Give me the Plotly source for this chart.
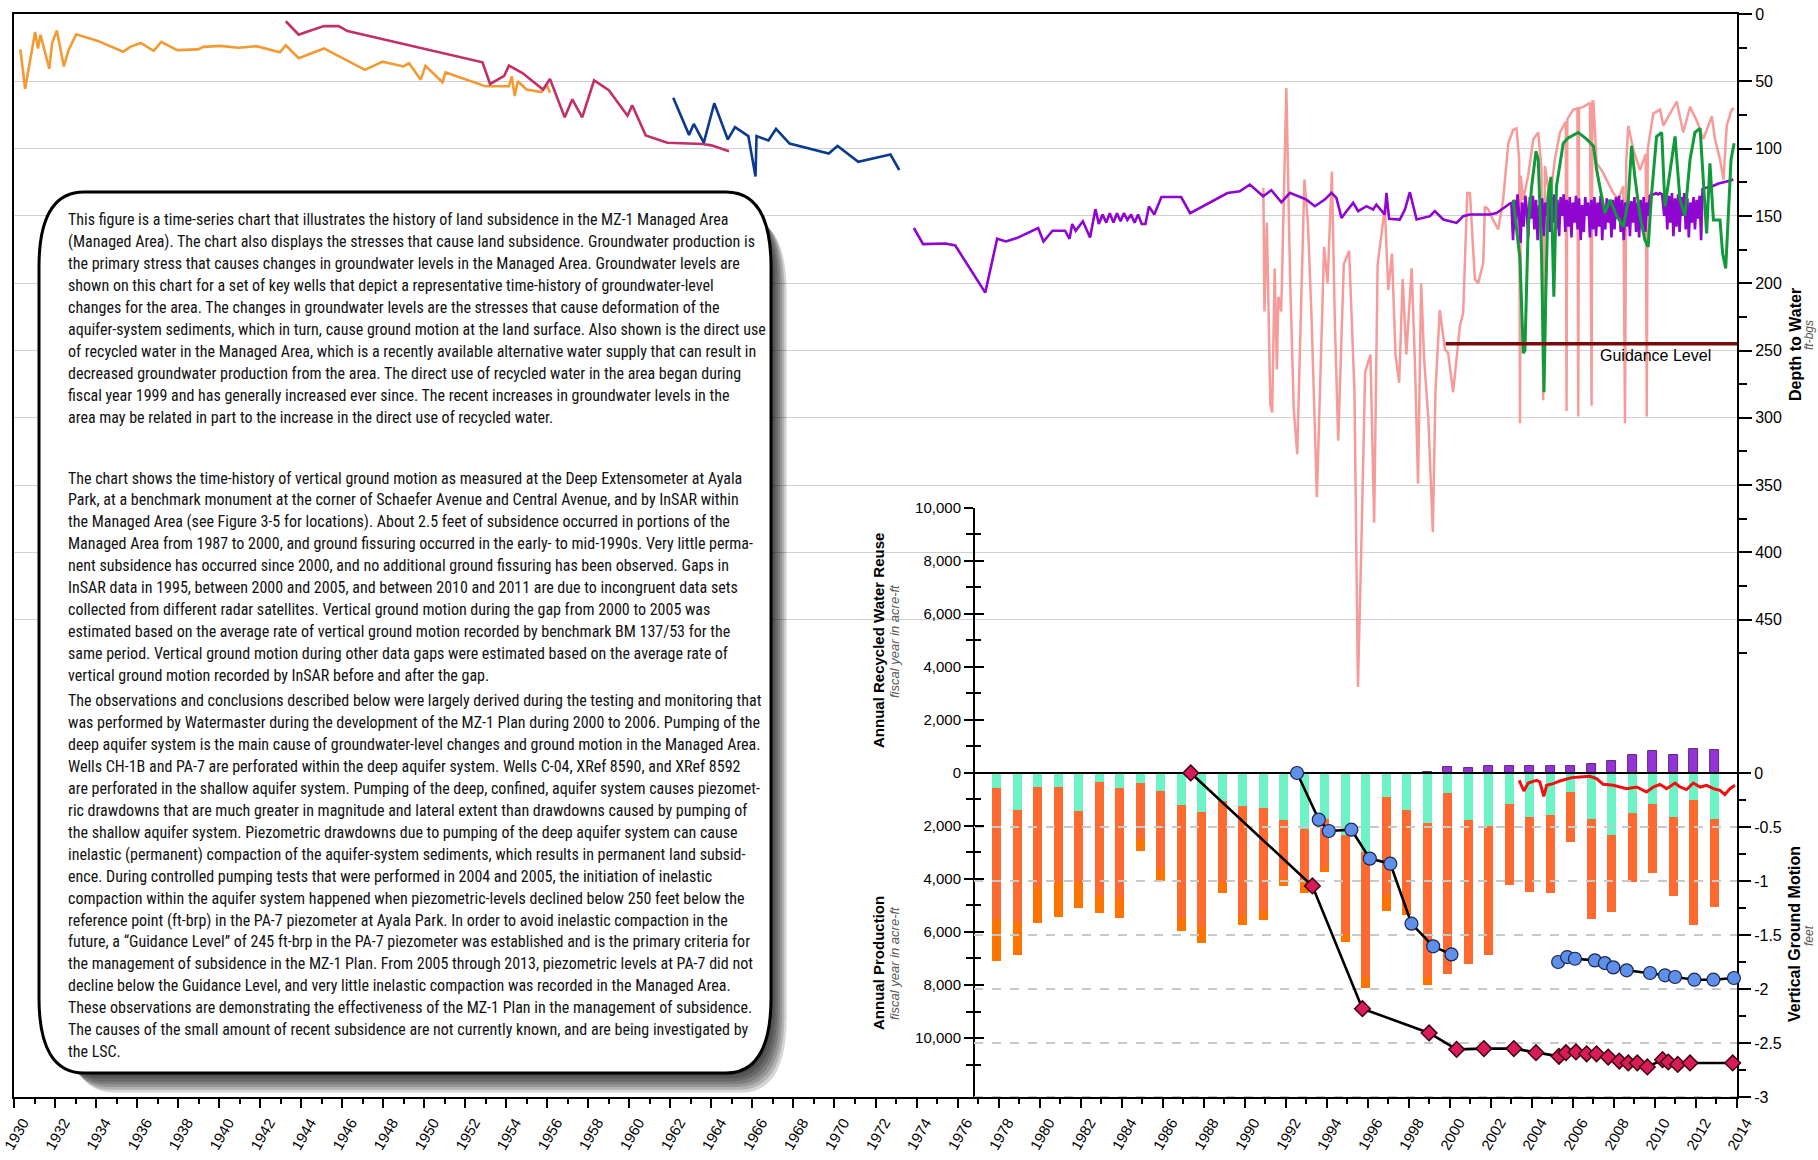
import plotly.graph_objects as go

# ---------------- data ----------------
orange_year = [1930.31, 1930.54, 1931.03, 1931.17, 1931.29, 1931.72, 1931.86, 1932.09, 1932.43, 1932.66,
               1933.03, 1934.09, 1935.32, 1935.67, 1936.18, 1936.81, 1937.18, 1937.96, 1938.96, 1939.24,
               1940.05, 1940.96, 1941.82, 1942.96, 1943.25, 1943.88, 1945.11, 1947.11, 1947.97, 1948.98,
               1949.26, 1949.83, 1950.06, 1950.89, 1951.04, 1952.98, 1954.13, 1954.27, 1954.41, 1954.56,
               1954.99, 1955.70, 1955.99, 1956.13]
orange_depth = [26.3, 55.6, 13.4, 25.6, 15.4, 40.7, 21.5, 12.2, 39.0, 26.8,
                15.1, 20.0, 28.0, 24.4, 21.5, 27.3, 20.7, 26.8, 26.3, 24.4,
                23.7, 25.1, 23.9, 28.5, 23.2, 32.9, 25.6, 41.5, 35.4, 39.0,
                36.6, 48.8, 38.5, 50.7, 43.4, 53.7, 53.7, 46.3, 61.0, 50.0,
                56.1, 58.0, 53.2, 58.5]

crimson_year = [1943.25, 1943.88, 1944.25, 1945.11, 1945.83, 1946.26, 1952.84, 1953.21, 1953.90, 1954.13,
                1954.79, 1955.79, 1956.13, 1956.85, 1957.22, 1957.70, 1958.28, 1959.00, 1959.91, 1960.14,
                1960.80, 1961.85, 1963.57, 1964.00, 1964.86]
crimson_depth = [5.4, 15.4, 13.4, 9.0, 9.0, 12.7, 35.9, 52.0, 45.9, 38.3,
                 43.9, 56.1, 48.3, 76.8, 63.4, 76.8, 49.3, 56.6, 75.6, 67.8,
                 90.2, 95.6, 96.6, 97.6, 102.0]

blue_year = [1962.14, 1962.91, 1963.14, 1963.63, 1964.14, 1964.80, 1965.15, 1965.80, 1966.15, 1966.20,
             1966.78, 1967.15, 1967.81, 1969.72, 1970.15, 1971.16, 1972.73, 1973.16]
blue_depth = [62.2, 89.8, 81.7, 95.6, 66.3, 93.2, 84.1, 90.7, 120.7, 90.7,
              93.9, 85.4, 96.3, 103.7, 98.0, 109.8, 104.4, 115.9]

purple_year = [1973.87, 1974.32, 1975.40, 1975.89, 1977.35, 1977.93, 1978.36, 1978.89, 1979.93, 1980.19,
               1980.63, 1981.24, 1981.46, 1981.59, 1981.76, 1982.11, 1982.46, 1982.72, 1982.89, 1983.07,
               1983.25, 1983.42, 1983.60, 1983.77, 1983.95, 1984.11, 1984.28, 1984.46, 1984.63, 1984.80,
               1984.98, 1985.16, 1985.33, 1985.59, 1985.94, 1986.90, 1987.34, 1989.16, 1989.76, 1990.25,
               1990.90, 1991.30, 1991.79, 1992.20, 1993.01, 1993.42, 1993.90, 1994.23, 1994.47, 1994.72,
               1994.96, 1995.29, 1995.53, 1995.94, 1996.26, 1996.42, 1996.83, 1996.91, 1997.04, 1997.56,
               1997.81, 1998.05, 1998.38, 1999.03, 1999.27, 1999.68, 2000.33, 2000.65, 2000.98, 2001.95,
               2002.28, 2002.93,
               2003.00, 2003.08, 2003.15, 2003.22, 2003.30, 2003.38, 2003.45, 2003.52, 2003.60, 2003.68,
               2003.75, 2003.82, 2003.90, 2003.97, 2004.05, 2004.12, 2004.20, 2004.28, 2004.35, 2004.42,
               2004.50, 2004.58, 2004.65, 2004.72, 2004.80, 2004.88, 2004.95, 2005.03, 2005.10, 2005.18,
               2005.25, 2005.33, 2005.40, 2005.48, 2005.55, 2005.63, 2005.70, 2005.78, 2005.85, 2005.93,
               2006.00, 2006.08, 2006.15, 2006.23, 2006.30, 2006.38, 2006.45, 2006.53, 2006.60, 2006.68,
               2006.75, 2006.83, 2006.90, 2006.98, 2007.05, 2007.13, 2007.20, 2007.28, 2007.35, 2007.43,
               2007.50, 2007.58, 2007.65, 2007.73, 2007.80, 2007.88, 2007.95, 2008.03, 2008.10, 2008.18,
               2008.25, 2008.33, 2008.40, 2008.48, 2008.55, 2008.63, 2008.70, 2008.78, 2008.85, 2008.93,
               2009.00, 2009.08, 2009.15, 2009.23, 2009.30, 2009.38, 2009.45, 2009.53, 2009.60, 2009.68,
               2009.75, 2009.85, 2009.95, 2010.05, 2010.15, 2010.25, 2010.35, 2010.45, 2010.52, 2010.60,
               2010.68, 2010.75, 2010.83, 2010.90, 2010.98, 2011.05, 2011.13, 2011.20, 2011.28, 2011.35,
               2011.43, 2011.50, 2011.58, 2011.65, 2011.73, 2011.80, 2011.88, 2011.95, 2012.03, 2012.10,
               2012.18, 2012.25, 2012.32, 2012.50, 2012.80, 2013.10, 2013.40, 2013.60, 2013.82]
purple_depth = [159, 171, 170.5, 172, 207, 167, 169, 166.5, 159, 169,
                161, 161, 167, 156, 161, 154, 166, 145, 156, 149,
                155, 148, 155, 148, 154, 148, 153, 149, 155, 149,
                156, 156, 143, 149, 136, 136, 148, 133, 131.7, 126.7,
                135.4, 130.9, 139.9, 132.9, 137.9, 142.8, 137.9, 132.9, 136.6, 151.5,
                146.5, 140.3, 146.5, 142.8, 145.3, 141.6, 149.0, 132.9, 152.2, 152.7,
                145.3, 132.4, 152.7, 150.2, 146.5, 152.7, 155.2, 150.2, 149.0, 149.0,
                147.8, 140.3,
                140, 168, 138, 160, 134, 150, 170, 140, 158, 135,
                145, 166, 136, 152, 135, 160, 138, 168, 142, 158,
                137, 165, 140, 150, 134, 162, 136, 155, 134, 160,
                138, 165, 136, 150, 134, 162, 138, 158, 136, 166,
                140, 155, 135, 160, 137, 168, 142, 162, 136, 150,
                140, 166, 138, 160, 136, 165, 140, 158, 135, 168,
                142, 160, 137, 155, 140, 166, 138, 160, 136, 152,
                135, 162, 138, 168, 140, 158, 137, 165, 139, 155,
                136, 162, 140, 166, 138, 158, 136, 162, 140, 150,
                135, 134, 134, 133, 134, 133, 134, 150, 132, 160,
                135, 155, 133, 165, 137, 158, 134, 162, 136, 150,
                133, 160, 137, 166, 140, 155, 136, 160, 138, 152,
                135, 168, 130, 129, 128, 126, 125, 124, 123]

pink_year = [1990.91, 1990.96, 1991.08, 1991.25, 1991.34, 1991.46, 1991.57, 1991.64, 1991.78, 1991.95,
             1992.03, 1992.21, 1992.39, 1992.56, 1992.74, 1992.91, 1993.08, 1993.26, 1993.52, 1993.69,
             1993.87, 1994.04, 1994.25, 1994.39, 1994.56, 1994.83, 1995.09, 1995.35, 1995.52, 1995.70,
             1995.87, 1996.13, 1996.31, 1996.48, 1996.83, 1997.00, 1997.18, 1997.35, 1997.53, 1997.70,
             1997.88, 1998.14, 1998.30, 1998.45, 1998.60, 1998.75, 1998.95, 1999.17, 1999.30, 1999.51,
             1999.76, 1999.92, 2000.16, 2000.49, 2000.65, 2000.85, 2000.98, 2001.22, 2001.38, 2001.63,
             2001.71, 2001.87, 2002.11, 2002.36, 2002.60, 2002.85, 2003.09, 2003.25, 2003.38, 2003.42,
             2003.46, 2003.58, 2003.82, 2004.07, 2004.31, 2004.47, 2004.55, 2004.64, 2004.88, 2005.12,
             2005.37, 2005.65, 2005.69, 2005.73, 2006.02, 2006.22, 2006.26, 2006.30, 2006.51, 2006.83,
             2006.91, 2006.95, 2007.00, 2007.16, 2007.40, 2007.64, 2007.97, 2008.21, 2008.46, 2008.54,
             2008.60, 2008.70, 2008.95, 2009.27, 2009.55, 2009.60, 2009.65, 2009.92, 2010.25, 2010.41,
             2010.73, 2011.06, 2011.38, 2011.71, 2012.03, 2012.36, 2012.77, 2012.93, 2013.17, 2013.34,
             2013.50, 2013.74, 2013.86]
pink_depth = [129, 221, 155, 290, 296, 189, 264, 210, 221, 109,
              55, 194, 293, 327, 226, 123, 155, 226, 359, 269,
              173, 200, 117, 226, 317, 186, 176, 280, 500, 386,
              266, 253, 378, 186, 144, 205, 178, 253, 274, 197,
              253, 189, 260, 349, 200, 257, 300, 385, 280, 220,
              249, 252, 281, 232, 222, 133, 133, 197, 200, 185,
              143, 145, 153, 160, 138, 96, 86, 85, 108, 304,
              120, 138, 120, 93, 88, 115, 287, 113, 138, 108,
              88, 80, 295, 78, 71, 70, 299, 70, 69, 66,
              291, 65, 65, 111, 116, 123, 133, 138, 128, 304,
              110, 83, 101, 116, 104, 299, 100, 74, 71, 83,
              74, 65, 88, 69, 79, 93, 76, 93, 108, 123,
              83, 71, 70]

green_year = [2003.09, 2003.42, 2003.58, 2003.66, 2003.82, 2003.99, 2004.20, 2004.31, 2004.47, 2004.59,
              2004.68, 2004.80, 2004.93, 2005.07, 2005.20, 2005.53, 2005.77, 2006.26, 2006.67, 2007.00,
              2007.16, 2007.32, 2007.56, 2007.81, 2008.13, 2008.46, 2008.70, 2008.86, 2009.02, 2009.27,
              2009.51, 2009.67, 2009.84, 2010.08, 2010.33, 2010.49, 2010.73, 2010.98, 2011.22, 2011.46,
              2011.71, 2011.95, 2012.20, 2012.36, 2012.52, 2012.68, 2012.85, 2013.17, 2013.30, 2013.45,
              2013.58, 2013.71, 2013.86]
green_depth = [138, 182, 252, 250, 158, 128, 102, 108, 178, 281,
               207, 133, 121, 210, 128, 96, 92, 88, 93, 98,
               116, 130, 148, 138, 150, 158, 138, 98, 121, 150,
               168, 173, 133, 91, 88, 143, 116, 91, 138, 150,
               108, 88, 85, 126, 163, 111, 153, 153, 178, 189,
               153, 108, 96]

guidance_level = 245
guidance_start = 1999.8

fiscal_years = list(range(1978, 2014))
shallow_prod = [580, 1383, 519, 519, 1445, 333, 556, 395, 679, 1198, 1470, 1074, 1247, 1309, 1791, 2124,
                1729, 2334, 2989, 914, 1383, 1902, 741, 1754, 2001, 1161, 1667, 1581, 716, 1717, 2334,
                1507, 1173, 1667, 1013, 1717]
deep_prod = [4940, 4224, 3766, 3581, 2655, 4323, 4125, 2100, 2927, 4261, 4335, 3088, 4150, 3903, 2186, 1976,
             1815, 3742, 4693, 3680, 3705, 5788, 6854, 5434, 4878, 3063, 2804, 2964, 1902, 3803, 2902,
             2593, 2594, 2964, 4730, 3347]
other_prod = [1580, 1272, 1359, 1322, 1001, 642, 778, 432, 457, 518, 617, 383, 346, 346, 284, 420,
              198, 284, 432, 630, 272, 300, 0, 0, 0, 0, 0, 0, 0, 0, 0, 0, 0, 0, 0, 0]
recycled = [0, 0, 0, 0, 0, 0, 0, 0, 0, 0, 0, 0, 0, 0, 0, 0, 0, 0, 0, 0, 0, 30,
            222, 173, 260, 260, 247, 247, 284, 346, 469, 667, 827, 692, 889, 864]

insar_year = [2003.38, 2003.61, 2003.82, 2004.23, 2004.39, 2004.58, 2004.72, 2005.04, 2005.37, 2005.94,
              2006.34, 2006.83, 2007.15, 2007.48, 2007.97, 2008.62, 2009.11, 2009.59, 2009.92, 2010.24,
              2010.57, 2010.98, 2011.22, 2011.54, 2011.87, 2012.20, 2012.52, 2012.85, 2013.17, 2013.41,
              2013.66, 2013.90]
insar_ft = [-0.068, -0.167, -0.093, -0.068, -0.083, -0.216, -0.114, -0.099, -0.074, -0.043,
            -0.037, -0.031, -0.052, -0.105, -0.114, -0.145, -0.130, -0.176, -0.130, -0.105,
            -0.145, -0.093, -0.130, -0.154, -0.093, -0.130, -0.114, -0.145, -0.160, -0.200,
            -0.145, -0.114]

bm_year = [1992.55, 1993.61, 1994.10, 1995.20, 1996.10, 1997.10, 1998.13, 1999.19, 2000.08, None,
           2005.28, 2005.72, 2006.10, 2007.07, 2007.56, 2007.97, 2008.62, 2009.76, 2010.49, 2010.98,
           2011.92, 2012.85, 2013.85]
bm_ft = [0.0, -0.432, -0.537, -0.525, -0.793, -0.840, -1.395, -1.605, -1.680, None,
         -1.750, -1.704, -1.720, -1.735, -1.760, -1.800, -1.827, -1.852, -1.873, -1.889,
         -1.914, -1.914, -1.898]

ext_year = [1987.37, 1993.30, 1995.74, 1998.99, 2000.33, 2001.66, 2003.12, 2004.20, 2005.32, 2005.66,
            2006.15, 2006.67, 2007.15, 2007.72, 2008.26, 2008.70, 2009.14, 2009.63, 2010.37, 2010.65,
            2011.11, 2011.71, 2013.79]
ext_ft = [0.0, -1.046, -2.182, -2.407, -2.559, -2.552, -2.552, -2.590, -2.623, -2.590,
          -2.583, -2.600, -2.600, -2.630, -2.667, -2.685, -2.685, -2.722, -2.654, -2.676,
          -2.698, -2.685, -2.685]

depth_ticks = [0, 50, 100, 150, 200, 250, 300, 350, 400, 450]
acre_ticks = [10000, 8000, 6000, 4000, 2000, 0, -2000, -4000, -6000, -8000, -10000]
acre_labels = ["10,000", "8,000", "6,000", "4,000", "2,000", "0", "2,000", "4,000", "6,000", "8,000", "10,000"]
vgm_ticks = [0, -0.5, -1, -1.5, -2, -2.5, -3]
vgm_labels = ["0", "-0.5", "-1", "-1.5", "-2", "-2.5", "-3"]

para1 = [
    "This figure is a time-series chart that illustrates the history of land subsidence in the MZ-1 Managed Area",
    "(Managed Area). The chart also displays the stresses that cause land subsidence. Groundwater production is",
    "the primary stress that causes changes in groundwater levels in the Managed Area. Groundwater levels are",
    "shown on this chart for a set of key wells that depict a representative time-history of groundwater-level",
    "changes for the area. The changes in groundwater levels are the stresses that cause deformation of the",
    "aquifer-system sediments, which in turn, cause ground motion at the land surface. Also shown is the direct use",
    "of recycled water in the Managed Area, which is a recently available alternative water supply that can result in",
    "decreased groundwater production from the area. The direct use of recycled water in the area began during",
    "fiscal year 1999 and has generally increased ever since. The recent increases in groundwater levels in the",
    "area may be related in part to the increase in the direct use of recycled water.",
]
para2 = [
    "The chart shows the time-history of vertical ground motion as measured at the Deep Extensometer at Ayala",
    "Park, at a benchmark monument at the corner of Schaefer Avenue and Central Avenue, and by InSAR within",
    "the Managed Area (see Figure 3-5 for locations). About 2.5 feet of subsidence occurred in portions of the",
    "Managed Area from 1987 to 2000, and ground fissuring occurred in the early- to mid-1990s. Very little perma-",
    "nent subsidence has occurred since 2000, and no additional ground fissuring has been observed. Gaps in",
    "InSAR data in 1995, between 2000 and 2005, and between 2010 and 2011 are due to incongruent data sets",
    "collected from different radar satellites. Vertical ground motion during the gap from 2000 to 2005 was",
    "estimated based on the average rate of vertical ground motion recorded by benchmark BM 137/53 for the",
    "same period. Vertical ground motion during other data gaps were estimated based on the average rate of",
    "vertical ground motion recorded by InSAR before and after the gap.",
]
para3 = [
    "The observations and conclusions described below were largely derived during the testing and monitoring that",
    "was performed by Watermaster during the development of the MZ-1 Plan during 2000 to 2006. Pumping of the",
    "deep aquifer system is the main cause of groundwater-level changes and ground motion in the Managed Area.",
    "Wells CH-1B and PA-7 are perforated within the deep aquifer system. Wells C-04, XRef 8590, and XRef 8592",
    "are perforated in the shallow aquifer system. Pumping of the deep, confined, aquifer system causes piezomet-",
    "ric drawdowns that are much greater in magnitude and lateral extent than drawdowns caused by pumping of",
    "the shallow aquifer system. Piezometric drawdowns due to pumping of the deep aquifer system can cause",
    "inelastic (permanent) compaction of the aquifer-system sediments, which results in permanent land subsid-",
    "ence. During controlled pumping tests that were performed in 2004 and 2005, the initiation of inelastic",
    "compaction within the aquifer system happened when piezometric-levels declined below 250 feet below the",
    "reference point (ft-brp) in the PA-7 piezometer at Ayala Park. In order to avoid inelastic compaction in the",
    "future, a \u201cGuidance Level\u201d of 245 ft-brp in the PA-7 piezometer was established and is the primary criteria for",
    "the management of subsidence in the MZ-1 Plan. From 2005 through 2013, piezometric levels at PA-7 did not",
    "decline below the Guidance Level, and very little inelastic compaction was recorded in the Managed Area.",
    "These observations are demonstrating the effectiveness of the MZ-1 Plan in the management of subsidence.",
    "The causes of the small amount of recent subsidence are not currently known, and are being investigated by",
    "the LSC.",
]

# ---------------- geometry (pixels) ----------------
W, H = 1818, 1160
PL, PR, PT, PB = 14, 1737, 14, 1097
X0, X1 = 1930, 2014
DEPTH_MAX = 804.6
LOW_TOP_FRAC = 0.5439
LOW_LEFT_PX = 974


def px2x(px):
    return (px - PL) / (PR - PL)


def px2y(py):
    return (PB - py) / (PB - PT)


def px2year(px):
    return X0 + (px - PL) / (PR - PL) * (X1 - X0)


low_left_year = px2year(LOW_LEFT_PX)

FONT = "Liberation Sans, Arial, Helvetica, sans-serif"
NARROW = "Liberation Sans Narrow, Arial Narrow, Roboto Condensed, DejaVu Sans Condensed, sans-serif"

fig = go.Figure()

# ---- lower chart bars ----
bar_x = [y - 0.1 for y in fiscal_years]
fig.add_trace(go.Bar(x=bar_x, y=[-v for v in shallow_prod], width=0.44, yaxis="y2",
                     marker=dict(color="#6EF3C6", line=dict(width=0)), name="Shallow"))
fig.add_trace(go.Bar(x=bar_x, y=[-v for v in deep_prod], width=0.44, yaxis="y2",
                     marker=dict(color="#FF6A30", line=dict(width=0)), name="Deep"))
fig.add_trace(go.Bar(x=bar_x, y=[-v for v in other_prod], width=0.44, yaxis="y2",
                     marker=dict(color="#FF7300", line=dict(width=0)), name="Other"))
fig.add_trace(go.Bar(x=bar_x, y=recycled, width=0.44, yaxis="y2",
                     marker=dict(color="#9434D6", line=dict(width=0.8, color="#3d0a66")), name="Recycled"))

# zero line of lower chart
fig.add_trace(go.Scatter(x=[low_left_year, X1], y=[0, 0], yaxis="y2", mode="lines",
                         line=dict(color="black", width=2), hoverinfo="skip"))

# ---- upper chart lines ----
fig.add_trace(go.Scatter(x=orange_year, y=orange_depth, mode="lines",
                         line=dict(color="#F29A33", width=2.6)))
fig.add_trace(go.Scatter(x=crimson_year, y=crimson_depth, mode="lines",
                         line=dict(color="#C2306A", width=2.6)))
fig.add_trace(go.Scatter(x=blue_year, y=blue_depth, mode="lines",
                         line=dict(color="#0B3A8E", width=2.6)))
fig.add_trace(go.Scatter(x=pink_year, y=pink_depth, mode="lines",
                         line=dict(color="#F59C9A", width=2.5)))
fig.add_trace(go.Scatter(x=purple_year, y=purple_depth, mode="lines",
                         line=dict(color="#8E06D0", width=2.6)))
fig.add_trace(go.Scatter(x=green_year, y=green_depth, mode="lines",
                         line=dict(color="#109A3A", width=3)))
fig.add_trace(go.Scatter(x=[guidance_start, X1], y=[guidance_level, guidance_level], mode="lines",
                         line=dict(color="#7A0A0A", width=3.5)))

# ---- ground motion ----
fig.add_trace(go.Scatter(x=insar_year, y=insar_ft, yaxis="y3", mode="lines",
                         line=dict(color="#F01010", width=3)))
fig.add_trace(go.Scatter(x=ext_year, y=ext_ft, yaxis="y3", mode="lines+markers", cliponaxis=False,
                         line=dict(color="black", width=2.6),
                         marker=dict(symbol="diamond", size=12, color="#D81B5A",
                                     line=dict(color="#40000F", width=1.5))))
fig.add_trace(go.Scatter(x=bm_year, y=bm_ft, yaxis="y3", mode="lines+markers", cliponaxis=False,
                         connectgaps=False,
                         line=dict(color="black", width=2.6),
                         marker=dict(symbol="circle", size=13, color="#5E90EA",
                                     line=dict(color="#1c2450", width=1.2))))

# dummy trace so the inside-tick axis is rendered
fig.add_trace(go.Scatter(x=[None], y=[None], yaxis="y4", mode="lines", hoverinfo="skip"))

# ---------------- shapes ----------------
shapes = []
for v in vgm_ticks[1:]:
    shapes.append(dict(type="line", xref="x", yref="y3", x0=low_left_year, x1=X1, y0=v, y1=v,
                       line=dict(color="#C8C8C8", width=2.2, dash="dash"), layer="below"))


def rounded_path(l, t, r, b, rx, ry):
    def P(px, py):
        return f"{px2x(px):.5f},{px2y(py):.5f}"
    pts = [f"M {P(l + rx, t)}", f"L {P(r - rx, t)}", f"Q {P(r, t)} {P(r, t + ry)}",
           f"L {P(r, b - ry)}", f"Q {P(r, b)} {P(r - rx, b)}", f"L {P(l + rx, b)}",
           f"Q {P(l, b)} {P(l, b - ry)}", f"L {P(l, t + ry)}", f"Q {P(l, t)} {P(l + rx, t)}", "Z"]
    return " ".join(pts)


BOX_L, BOX_T, BOX_R, BOX_B = 39, 192, 771, 1073
for i in range(1, 8):
    d = 2.8 * i
    shapes.append(dict(type="path", xref="paper", yref="paper",
                       path=rounded_path(BOX_L + d + 10, BOX_T + d + 6, BOX_R + d * 0.8, BOX_B + d, 45, 75),
                       fillcolor="black", opacity=0.16, line=dict(width=0), layer="above"))
shapes.append(dict(type="path", xref="paper", yref="paper",
                   path=rounded_path(BOX_L, BOX_T, BOX_R, BOX_B, 45, 75),
                   fillcolor="white", line=dict(color="black", width=3), layer="above"))

# ---------------- annotations ----------------
ann = []
LINE_H = 21.9
for para, y_start in ((para1, 220), (para2, 478), (para3, 701)):
    for k, line in enumerate(para):
        ann.append(dict(xref="paper", yref="paper", x=px2x(66), y=px2y(y_start + k * LINE_H),
                        xanchor="left", yanchor="middle", showarrow=False, text=line,
                        font=dict(family=NARROW, size=16, color="#111111")))

ann.append(dict(xref="paper", yref="paper", x=px2x(1655), y=px2y(355), showarrow=False,
                text="Guidance Level", font=dict(family=FONT, size=16, color="black"),
                xanchor="center", yanchor="middle"))


def vtitle(px, py, text, size, bold=True, color="black", italic=False):
    t = f"<b>{text}</b>" if bold else text
    if italic:
        t = f"<i>{text}</i>"
    ann.append(dict(xref="paper", yref="paper", x=px2x(px), y=px2y(py), showarrow=False,
                    text=t, textangle=-90, xanchor="center", yanchor="middle",
                    font=dict(family=FONT, size=size, color=color)))


vtitle(1796, 345, "Depth to Water", 16)
vtitle(1809, 335, "ft-bgs", 12, bold=False, italic=True, color="#555555")
vtitle(1794, 934, "Vertical Ground Motion", 16)
vtitle(1809, 935, "feet", 12, bold=False, italic=True, color="#555555")
vtitle(878, 641, "Annual Recycled Water Reuse", 15)
vtitle(894, 641, "fiscal year in acre-ft", 13, bold=False, italic=True, color="#555555")
vtitle(878, 963, "Annual Production", 15)
vtitle(894, 963, "fiscal year in acre-ft", 13, bold=False, italic=True, color="#555555")

# ---------------- layout ----------------
year_major = list(range(X0, X1 + 1, 2))
year_minor = list(range(X0 + 1, X1, 2))

fig.update_layout(
    width=W, height=H,
    margin=dict(l=PL, r=W - PR, t=PT, b=H - PB, pad=0, autoexpand=False),
    paper_bgcolor="white", plot_bgcolor="rgba(0,0,0,0)",
    showlegend=False, barmode="relative", bargap=0,
    font=dict(family=FONT, size=15, color="black"),
    xaxis=dict(range=[X0, X1], domain=[0, 1], tickmode="array", tickvals=year_major,
               ticktext=[str(v) for v in year_major], tickangle=-60, ticklabelshift=9,
               ticks="outside", ticklen=9, tickwidth=1.5, tickcolor="black",
               minor=dict(tickvals=year_minor, ticks="outside", ticklen=5, tickwidth=1.5, tickcolor="black"),
               showline=True, linewidth=2, linecolor="black", mirror=True, automargin=False,
               showgrid=False, zeroline=False, tickfont=dict(size=15, family=FONT)),
    yaxis=dict(range=[DEPTH_MAX, 0], domain=[0, 1], side="right", tickmode="array",
               tickvals=depth_ticks, ticktext=[str(v) for v in depth_ticks],
               ticks="outside", ticklen=13, tickwidth=2, tickcolor="black",
               minor=dict(tickvals=[v + 25 for v in depth_ticks], ticks="outside", ticklen=8,
                          tickwidth=2, tickcolor="black"),
               showline=True, linewidth=2, linecolor="black", mirror=True, automargin=False,
               showgrid=True, gridcolor="#D0D0D0", gridwidth=1, zeroline=False,
               tickfont=dict(size=16, family=FONT)),
    yaxis2=dict(anchor="free", position=px2x(LOW_LEFT_PX), side="left", automargin=False,
                domain=[0, LOW_TOP_FRAC], range=[-12226, 10000], tickmode="array",
                tickvals=acre_ticks, ticktext=acre_labels,
                ticks="outside", ticklen=9, tickwidth=2.2, tickcolor="black",
                minor=dict(tickvals=list(range(-11000, 10000, 2000)), ticks="outside", ticklen=7,
                           tickwidth=2.2, tickcolor="black"),
                showline=True, linewidth=2, linecolor="black", showgrid=False, zeroline=False,
                tickfont=dict(size=15, family=FONT)),
    yaxis4=dict(anchor="free", position=px2x(LOW_LEFT_PX), side="left", automargin=False,
                domain=[0, LOW_TOP_FRAC], range=[-12226, 10000], tickmode="array",
                tickvals=acre_ticks, showticklabels=False,
                ticks="inside", ticklen=9, tickwidth=2.2, tickcolor="black",
                minor=dict(tickvals=list(range(-11000, 10000, 2000)), ticks="inside", ticklen=6,
                           tickwidth=2.2, tickcolor="black"),
                showline=False, showgrid=False, zeroline=False),
    yaxis3=dict(anchor="free", position=1.0, side="right", automargin=False,
                domain=[0, LOW_TOP_FRAC], range=[-3, 2.4537], tickmode="array",
                tickvals=vgm_ticks, ticktext=vgm_labels,
                ticks="outside", ticklen=13, tickwidth=2, tickcolor="black",
                minor=dict(tickvals=[-0.25, -0.75, -1.25, -1.75, -2.25, -2.75], ticks="outside",
                           ticklen=8, tickwidth=2, tickcolor="black"),
                showline=False, showgrid=False, zeroline=False,
                tickfont=dict(size=16, family=FONT)),
    shapes=shapes,
    annotations=ann,
)

fig.write_html("out.html")
